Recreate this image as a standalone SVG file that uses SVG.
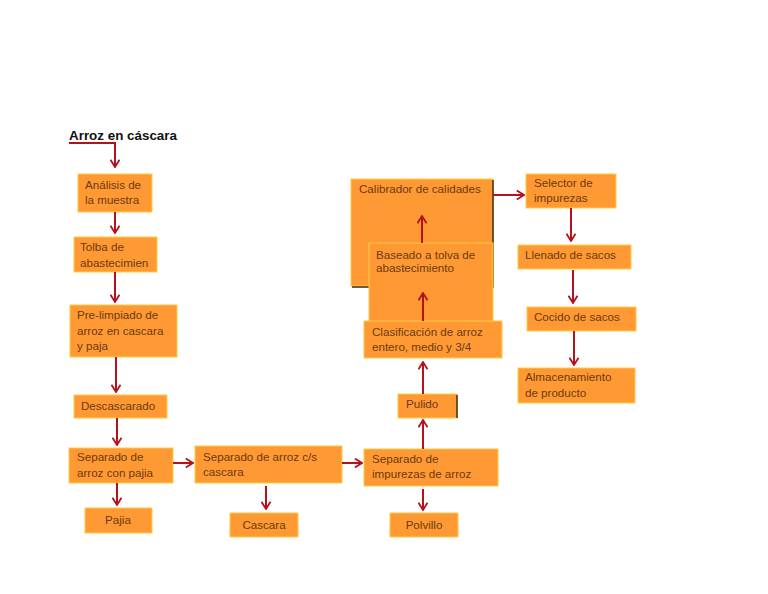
<svg xmlns="http://www.w3.org/2000/svg" width="768" height="594" viewBox="0 0 768 594">
<style>
.b{fill:#FF9933;stroke:#FFCC44;stroke-width:1}
.t{font-family:"Liberation Sans",Arial,sans-serif;font-size:11.6px;fill:#6B3A12}
.c{fill:none;stroke:#B5121B;stroke-width:2}
.ca{fill:none;stroke:#B5121B;stroke-width:2;marker-end:url(#ah)}
.sh{fill:none;stroke:#3A2A10;stroke-width:1.5}
</style>
<defs>
<marker id="ah" markerUnits="userSpaceOnUse" viewBox="0 0 10 12" refX="9" refY="6" markerWidth="9" markerHeight="11" orient="auto">
<path d="M1,1 L9,6 L1,11" fill="none" stroke="#B5121B" stroke-width="2"/>
</marker>
</defs>
<rect width="768" height="594" fill="#FFFFFF"/>
<text x="69" y="140" style="font-family:'Liberation Sans',Arial,sans-serif;font-size:13.4px;font-weight:bold;fill:#111">Arroz en cáscara</text>

<g id="calibrador"><rect class="b" x="351" y="179" width="142" height="107"/><path class="sh" d="M493,180 V287 H352"/><text class="t" x="359" y="193">Calibrador de calidades</text></g>
<g id="baseado"><rect class="b" x="369" y="243" width="124" height="80"/><text class="t" x="376" y="259">Baseado a tolva de</text><text class="t" x="376" y="272">abastecimiento</text></g>
<g id="clasificacion"><rect class="b" x="364" y="321" width="138" height="37"/><text class="t" x="372" y="336">Clasificación de arroz</text><text class="t" x="372" y="351">entero, medio y 3/4</text></g>

<g id="analisis"><rect class="b" x="78" y="174" width="74" height="38"/><text class="t" x="85" y="189">Análisis de</text><text class="t" x="85" y="204">la muestra</text></g>
<g id="tolba"><rect class="b" x="74" y="237" width="83" height="35"/><text class="t" x="80" y="251">Tolba de</text><text class="t" x="80" y="267">abastecimien</text></g>
<g id="prelimpiado"><rect class="b" x="70" y="305" width="107" height="52"/><text class="t" x="77" y="319">Pre-limpiado de</text><text class="t" x="77" y="335">arroz en cascara</text><text class="t" x="77" y="350">y paja</text></g>
<g id="descascarado"><rect class="b" x="74" y="395" width="93" height="23"/><text class="t" x="81" y="410">Descascarado</text></g>
<g id="sep-pajia"><rect class="b" x="69" y="448" width="104" height="35"/><text class="t" x="77" y="461">Separado de</text><text class="t" x="77" y="477">arroz con pajia</text></g>
<g id="pajia"><rect class="b" x="85" y="508" width="67" height="25"/><text class="t" x="118" y="524" text-anchor="middle">Pajia</text></g>
<g id="sep-cascara"><rect class="b" x="195" y="446" width="147" height="37"/><text class="t" x="203" y="461">Separado de arroz c/s</text><text class="t" x="203" y="476">cascara</text></g>
<g id="cascara"><rect class="b" x="230" y="513" width="68" height="24"/><text class="t" x="264" y="529" text-anchor="middle">Cascara</text></g>
<g id="sep-impurezas"><rect class="b" x="364" y="449" width="134" height="37"/><text class="t" x="372" y="463">Separado de</text><text class="t" x="372" y="478">impurezas de arroz</text></g>
<g id="polvillo"><rect class="b" x="390" y="513" width="68" height="24"/><text class="t" x="424" y="529" text-anchor="middle">Polvillo</text></g>
<g id="pulido"><rect class="b" x="398" y="394" width="59" height="24"/><path class="sh" d="M457,395 V418"/><text class="t" x="406" y="408">Pulido</text></g>
<g id="selector"><rect class="b" x="526" y="174" width="90" height="34"/><text class="t" x="534" y="187">Selector de</text><text class="t" x="534" y="202">impurezas</text></g>
<g id="llenado"><rect class="b" x="518" y="245" width="113" height="24"/><text class="t" x="525" y="259">Llenado de sacos</text></g>
<g id="cocido"><rect class="b" x="527" y="307" width="109" height="24"/><text class="t" x="534" y="321">Cocido de sacos</text></g>
<g id="almacenamiento"><rect class="b" x="518" y="368" width="117" height="35"/><text class="t" x="525" y="381">Almacenamiento</text><text class="t" x="525" y="397">de producto</text></g>

<g id="connectors">
<path class="ca" d="M69,143 H115 V167"/>
<path class="ca" d="M115,212 V233"/>
<path class="ca" d="M115,272 V302"/>
<path class="ca" d="M116,357 V392"/>
<path class="ca" d="M117,418 V445"/>
<path class="ca" d="M117,483 V505"/>
<path class="ca" d="M173,463 H193"/>
<path class="ca" d="M266,486 V509"/>
<path class="ca" d="M342,463 H362"/>
<path class="ca" d="M423,489 V510"/>
<path class="ca" d="M423,449 V420"/>
<path class="ca" d="M423,394 V362"/>
<path class="ca" d="M423,321 V293"/>
<path class="ca" d="M422,243 V216"/>
<path class="ca" d="M493,195 H524"/>
<path class="ca" d="M571,208 V241"/>
<path class="ca" d="M573,270 V303"/>
<path class="ca" d="M574,331 V365"/>
</g>
</svg>
